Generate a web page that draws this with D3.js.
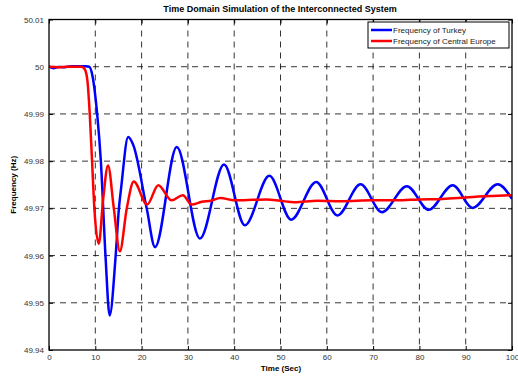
<!DOCTYPE html>
<html>
<head>
<meta charset="utf-8">
<script src="https://d3js.org/d3.v7.min.js"></script>
<style>
  body { margin: 0; background: #fff; }
  text { font-family: "Liberation Sans", Arial, sans-serif; }
</style>
</head>
<body>
<div id="chart"></div>
<script>
// data
var turkeyTime = [0, 1, 2, 3, 4, 5, 6, 7, 8, 8.7, 9.4, 10.4, 11.2, 12.2, 13.1, 14.4, 15.1, 15.6, 17.1, 18.2, 21.1, 22.9, 27.6, 32.6, 37.8, 42.3, 47.6, 52.3, 57.7, 62.3, 67.3, 71.9, 77.3, 82.0, 87.2, 91.5, 96.9, 100];
var turkeyFreq = [50.0, 49.9997, 49.99995, 49.9999, 50.0, 50.0001, 50.0001, 50.0001, 50.0001, 50.0, 49.998, 49.99, 49.98, 49.96, 49.9473, 49.96, 49.97, 49.9745, 49.9851, 49.9834, 49.970, 49.9618, 49.9830, 49.9636, 49.9793, 49.9664, 49.9769, 49.9676, 49.9756, 49.9685, 49.9751, 49.9692, 49.9747, 49.9697, 49.9749, 49.9701, 49.9751, 49.9720];

var europeTime = [0, 2, 4, 6, 7, 7.7, 8.3, 8.8, 9.3, 9.8, 10.75, 11.7, 12.75, 14, 15.3, 16.8, 18.3, 21.2, 23.6, 26.5, 28.9, 30.8, 33, 35, 37, 40, 44, 47, 50, 53, 58, 63, 70, 75, 80, 85, 90, 95, 100];
var europeFreq = [50.0, 49.9999, 50.0, 50.0, 50.0, 49.9995, 49.997, 49.99, 49.98, 49.97, 49.9625, 49.972, 49.9791, 49.970, 49.9609, 49.970, 49.9757, 49.9708, 49.9749, 49.9717, 49.9728, 49.9708, 49.9714, 49.9716, 49.9722, 49.9717, 49.9718, 49.9719, 49.9716, 49.9713, 49.9716, 49.9715, 49.9717, 49.9717, 49.9719, 49.972, 49.9723, 49.9726, 49.9728];

var xTicks = [0, 10, 20, 30, 40, 50, 60, 70, 80, 90, 100];
var yTicks = [49.94, 49.95, 49.96, 49.97, 49.98, 49.99, 50, 50.01];
var seriesNames = ["Frequency of Turkey", "Frequency of Central Europe"];
var seriesColors = ["#0000ff", "#ff0000"];

var W = 518, H = 376;
var plotLeft = 49, plotRight = 512, plotTop = 19.5, plotBottom = 350;

var svg = d3.select("#chart").append("svg")
  .attr("width", W).attr("height", H);

var x = d3.scaleLinear().domain([0, 100]).range([plotLeft, plotRight]);
var y = d3.scaleLinear().domain([49.94, 50.01]).range([plotBottom, plotTop]);

// grid
svg.append("g").selectAll("line").data(xTicks.slice(1, -1)).enter().append("line")
  .attr("x1", function(d){ return x(d); }).attr("x2", function(d){ return x(d); })
  .attr("y1", plotTop).attr("y2", plotBottom)
  .attr("stroke", "#000").attr("stroke-width", 0.8).attr("stroke-dasharray", "6,5");
svg.append("g").selectAll("line").data(yTicks.slice(1, -1)).enter().append("line")
  .attr("x1", plotLeft).attr("x2", plotRight)
  .attr("y1", function(d){ return y(d); }).attr("y2", function(d){ return y(d); })
  .attr("stroke", "#000").attr("stroke-width", 0.8).attr("stroke-dasharray", "6,5");

// axes with inward ticks
var fmtY = function(d){ return d3.format(".2f")(d).replace(/\.?0+$/, ""); };
var xb = svg.append("g").attr("transform", "translate(0," + plotBottom + ")")
  .call(d3.axisBottom(x).tickValues(xTicks).tickSizeInner(-4).tickSizeOuter(0).tickPadding(4));
var xt = svg.append("g").attr("transform", "translate(0," + plotTop + ")")
  .call(d3.axisTop(x).tickValues(xTicks).tickSizeInner(-4).tickSizeOuter(0).tickFormat(""));
var yl = svg.append("g").attr("transform", "translate(" + plotLeft + ",0)")
  .call(d3.axisLeft(y).tickValues(yTicks).tickSizeInner(-4).tickSizeOuter(0).tickPadding(5).tickFormat(fmtY));
var yr = svg.append("g").attr("transform", "translate(" + plotRight + ",0)")
  .call(d3.axisRight(y).tickValues(yTicks).tickSizeInner(-4).tickSizeOuter(0).tickFormat(""));
[xb, xt, yl, yr].forEach(function(g){
  g.select(".domain").remove();
  g.selectAll("line").attr("stroke", "#000");
  g.selectAll("text").attr("font-size", 8).attr("fill", "#333")
    .style("font-family", "'Liberation Sans', Arial, sans-serif");
});

// lines
var line = d3.line()
  .x(function(d){ return x(d[0]); })
  .y(function(d){ return y(d[1]); })
  .curve(d3.curveMonotoneX);

svg.append("clipPath").attr("id", "clip").append("rect")
  .attr("x", plotLeft).attr("y", plotTop)
  .attr("width", plotRight - plotLeft).attr("height", plotBottom - plotTop);

var series = [d3.zip(turkeyTime, turkeyFreq), d3.zip(europeTime, europeFreq)];
series.forEach(function(s, i){
  svg.append("path").datum(s)
    .attr("clip-path", "url(#clip)")
    .attr("d", line)
    .attr("fill", "none")
    .attr("stroke", seriesColors[i])
    .attr("stroke-width", 2.5)
    .attr("stroke-linejoin", "round");
});

// frame
svg.append("rect").attr("x", plotLeft).attr("y", plotTop)
  .attr("width", plotRight - plotLeft).attr("height", plotBottom - plotTop)
  .attr("fill", "none").attr("stroke", "#000").attr("stroke-width", 1.3);

// titles
svg.append("text").attr("x", 280).attr("y", 12).attr("text-anchor", "middle")
  .attr("font-size", 9).attr("font-weight", "bold")
  .text("Time Domain Simulation of the Interconnected System");
svg.append("text").attr("x", 281).attr("y", 371).attr("text-anchor", "middle")
  .attr("font-size", 8).attr("font-weight", "bold").text("Time (Sec)");
svg.append("text").attr("transform", "translate(16," + y(49.975) + ") rotate(-90)")
  .attr("text-anchor", "middle")
  .attr("font-size", 8).attr("font-weight", "bold").text("Frequency (Hz)");

// legend
var lg = svg.append("g");
lg.append("rect").attr("x", 368).attr("y", 22).attr("width", 141).attr("height", 26)
  .attr("fill", "#fff").attr("stroke", "#000").attr("stroke-width", 1);
seriesNames.forEach(function(n, i){
  var yy = 30 + i * 11;
  lg.append("line").attr("x1", 371).attr("x2", 392).attr("y1", yy).attr("y2", yy)
    .attr("stroke", seriesColors[i]).attr("stroke-width", 2.5);
  lg.append("text").attr("x", 393).attr("y", yy + 3).attr("font-size", 8).attr("fill", "#222").text(n);
});
</script>
</body>
</html>
